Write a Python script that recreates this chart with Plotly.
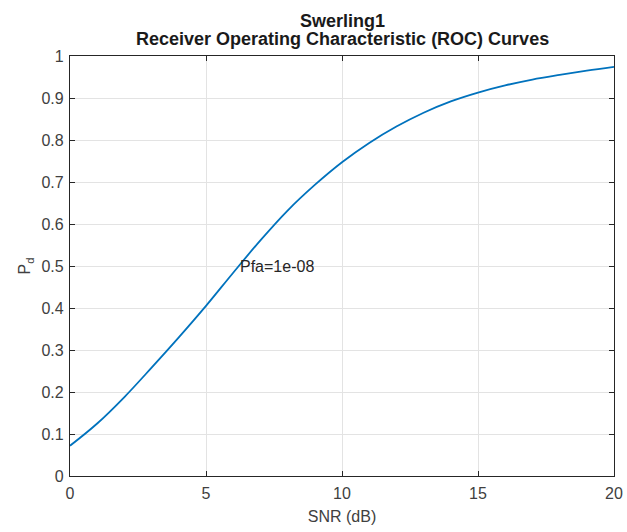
import plotly.graph_objects as go

snr_db = [0, 1, 2, 3, 4, 5, 6, 7, 8, 9, 10, 11, 12, 13, 14, 15, 16, 17, 18, 19, 20]
pd_vals = [0.072, 0.125, 0.188, 0.258, 0.330, 0.405, 0.484, 0.561, 0.632, 0.693,
           0.747, 0.793, 0.832, 0.865, 0.892, 0.913, 0.930, 0.944, 0.955, 0.965, 0.974]
x_ticks = [0, 5, 10, 15, 20]
y_ticks = [0, 0.1, 0.2, 0.3, 0.4, 0.5, 0.6, 0.7, 0.8, 0.9, 1]
y_tick_text = ["0", "0.1", "0.2", "0.3", "0.4", "0.5", "0.6", "0.7", "0.8", "0.9", "1"]
title_lines = ["Swerling1", "Receiver Operating Characteristic (ROC) Curves"]
label_text = "Pfa=1e-08"
label_pos = (6.17, 0.5)

FONT = "Liberation Sans, Arial, sans-serif"
AXC = "#262626"
TXC = "#404040"
GRID = "#e3e3e3"

fig = go.Figure()
fig.add_trace(go.Scatter(x=snr_db, y=pd_vals, mode="lines",
                         line=dict(color="#0072BD", width=1.8, shape="spline", smoothing=1.0),
                         showlegend=False))

fig.add_annotation(x=label_pos[0], y=label_pos[1], xref="x", yref="y",
                   text=label_text, showarrow=False, xanchor="left", yanchor="middle",
                   font=dict(family=FONT, size=16, color="#262626"))

fig.add_annotation(x=0.5, y=1, xref="paper", yref="paper", text="<b>%s</b>" % title_lines[0],
                   showarrow=False, xanchor="center", yanchor="middle", yshift=35,
                   font=dict(family=FONT, size=18, color="#1a1a1a"))
fig.add_annotation(x=0.5, y=1, xref="paper", yref="paper", text="<b>%s</b>" % title_lines[1],
                   showarrow=False, xanchor="center", yanchor="middle", yshift=17,
                   font=dict(family=FONT, size=18, color="#1a1a1a"))

axis_common = dict(showline=True, linecolor=AXC, linewidth=1.2, mirror="ticks",
                   ticks="inside", ticklen=5, tickcolor=AXC, tickwidth=1.2,
                   showgrid=True, gridcolor=GRID, gridwidth=1, zeroline=False,
                   automargin=False,
                   tickfont=dict(family=FONT, size=16, color=TXC))

fig.update_xaxes(range=[0, 20], tickvals=x_ticks,
                 title=dict(text="SNR (dB)", font=dict(family=FONT, size=16, color=TXC), standoff=9),
                 ticklabelstandoff=3, **axis_common)
fig.update_yaxes(range=[0, 1], tickvals=y_ticks, ticktext=y_tick_text,
                 title=dict(text="P<sub>d</sub>", font=dict(family=FONT, size=16, color=TXC), standoff=6),
                 ticklabelstandoff=2, **axis_common)

fig.update_layout(width=627, height=532,
                  margin=dict(l=70, r=13, t=56, b=56),
                  paper_bgcolor="white", plot_bgcolor="white")

page_fix = ("document.body.style.margin='0';"
            "document.body.style.overflow='hidden';"
            "document.documentElement.style.overflow='hidden';")
fig.write_html("out.html", post_script=page_fix, config={"displayModeBar": False})
